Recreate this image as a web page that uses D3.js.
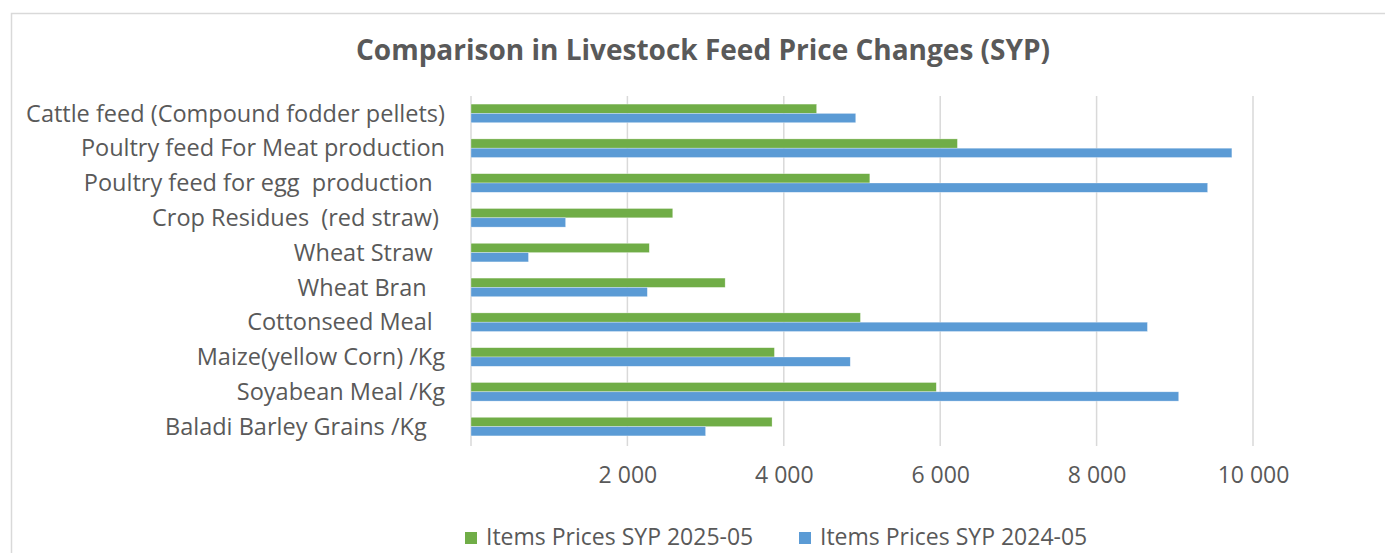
<!DOCTYPE html>
<html>
<head>
<meta charset="utf-8">
<script src="https://cdn.jsdelivr.net/npm/d3@7"></script>
<style>
  body { margin: 0; background: #fff; }
  svg text { font-family: "Open Sans", "Noto Sans", sans-serif; fill: #595959; white-space: pre; }
</style>
</head>
<body>
<div id="chart"></div>
<script>
// categories, top to bottom as drawn
var categories = [
    'Cattle feed (Compound fodder pellets)',
    'Poultry feed For Meat production',
    'Poultry feed for egg  production  ',
    'Crop Residues  (red straw) ',
    'Wheat Straw  ',
    'Wheat Bran   ',
    'Cottonseed Meal  ',
    'Maize(yellow Corn) /Kg',
    'Soyabean Meal /Kg',
    'Baladi Barley Grains /Kg   '
];
var seriesNames = ['Items Prices SYP 2025-05', 'Items Prices SYP 2024-05'];
var prices2025 = [4420, 6220, 5100, 2580, 2280, 3250, 4980, 3880, 5950, 3850];
var prices2024 = [4920, 9730, 9420, 1210, 735, 2255, 8650, 4850, 9050, 3000];
var tickValues = [2000, 4000, 6000, 8000, 10000];
var colors = ['#70AD47', '#5B9BD5'];

var width = 1385, height = 553;

var svg = d3.select('#chart').append('svg')
    .attr('width', width).attr('height', height);

// chart frame
svg.append('rect')
    .attr('x', 11.5).attr('y', 13.5)
    .attr('width', width + 20).attr('height', height + 20)
    .attr('fill', 'none').attr('stroke', '#d9d9d9').attr('stroke-width', 1.5);

svg.append('text')
    .attr('x', 703).attr('y', 60)
    .attr('text-anchor', 'middle')
    .style('font-size', '28px').style('font-weight', 'bold')
    .text('Comparison in Livestock Feed Price Changes (SYP)');

var x = d3.scaleLinear().domain([0, 10000]).range([471, 1253]);
var y = d3.scaleBand().domain(d3.range(categories.length)).range([96, 444]);
var ySub = d3.scaleBand().domain([0, 1]).range([0, y.bandwidth()]).paddingInner(0).paddingOuter(0.87);

// gridlines
svg.append('g').selectAll('line')
    .data([0].concat(tickValues))
    .enter().append('line')
    .attr('x1', function(d) { return x(d); })
    .attr('x2', function(d) { return x(d); })
    .attr('y1', 96).attr('y2', 446)
    .attr('stroke', '#d9d9d9').attr('stroke-width', 1.5);

var rows = categories.map(function(c, i) { return [prices2025[i], prices2024[i]]; });

var groups = svg.append('g').selectAll('g')
    .data(rows)
    .enter().append('g')
    .attr('transform', function(d, i) { return 'translate(0,' + y(i) + ')'; });

groups.selectAll('rect')
    .data(function(d) { return d; })
    .enter().append('rect')
    .attr('x', x(0))
    .attr('y', function(d, j) { return ySub(j); })
    .attr('width', function(d) { return x(d) - x(0); })
    .attr('height', ySub.bandwidth())
    .attr('fill', function(d, j) { return colors[j]; })
    .attr('stroke', '#ffffff').attr('stroke-opacity', 0.5).attr('stroke-width', 0.6);

// category labels
svg.append('g').selectAll('text')
    .data(categories)
    .enter().append('text')
    .attr('x', 445)
    .attr('y', function(d, i) { return y(i) + y.bandwidth() / 2; })
    .attr('dy', '0.35em')
    .attr('text-anchor', 'end')
    .style('font-size', '23.5px')
    .text(function(d) { return d; });

// value axis
var locale = d3.formatLocale({ decimal: '.', thousands: ' ', grouping: [3], currency: ['', ''] });
var xAxis = d3.axisBottom(x).tickValues(tickValues).tickSize(0).tickPadding(0)
    .tickFormat(locale.format(','));
var axisG = svg.append('g').attr('transform', 'translate(0,468)').call(xAxis);
axisG.select('.domain').remove();
axisG.selectAll('text')
    .attr('dy', '0.35em').attr('y', 7)
    .style('font-size', '23px').style('fill', '#595959')
    .style('font-family', '"Open Sans", "Noto Sans", sans-serif');

// legend
var legendX = [465, 799];
var legend = svg.append('g').selectAll('g')
    .data(seriesNames)
    .enter().append('g')
    .attr('transform', function(d, i) { return 'translate(' + legendX[i] + ',537)'; });
legend.append('rect')
    .attr('x', 0).attr('y', -5).attr('width', 12).attr('height', 12)
    .attr('fill', function(d, i) { return colors[i]; });
legend.append('text')
    .attr('x', 21).attr('dy', '0.35em')
    .style('font-size', '23px')
    .text(function(d) { return d; });
</script>
</body>
</html>
